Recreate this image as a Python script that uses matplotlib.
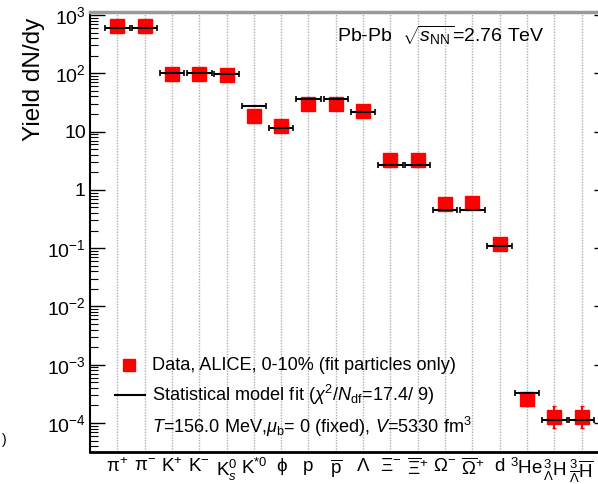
import numpy as np
import matplotlib
matplotlib.use("Agg")
import matplotlib.pyplot as plt
from matplotlib.lines import Line2D
from matplotlib.ticker import FixedLocator, FixedFormatter, LogLocator, NullFormatter

plt.rcParams['font.family'] = ['Liberation Sans', 'DejaVu Sans']
plt.rcParams['mathtext.fontset'] = 'custom'
plt.rcParams['mathtext.rm'] = 'Liberation Sans'
plt.rcParams['mathtext.it'] = 'Liberation Sans:italic'
plt.rcParams['mathtext.bf'] = 'Liberation Sans:bold'

# Particle species
particles = [r'π$^{+}$', r'π$^{-}$', r'K$^{+}$', r'K$^{-}$', r'K$^{0}_{s}$', r'K$^{*0}$',
             'ϕ', 'p', r'$\overline{\mathrm{p}}$', 'Λ', r'Ξ$^{-}$', r'$\overline{\Xi}^{+}$',
             r'Ω$^{-}$', r'$\overline{\Omega}^{+}$', 'd', r'$^{3}$He',
             r'$^{3}_{\Lambda}$H', r'$^{3}_{\overline{\Lambda}}\overline{\mathrm{H}}$']

# Measured yields dN/dy (central 0-10%)
data_yield = [640, 640, 96, 96, 95, 18.5, 12.5, 29.5, 29.5, 22.5, 3.25, 3.25,
              0.57, 0.60, 0.117, 2.55e-4, 1.28e-4, 1.28e-4]
data_err_lo = [30, 30, 5, 5, 5, 1.5, 1.0, 2.0, 2.0, 2.0, 0.25, 0.25,
               0.05, 0.05, 0.01, 0.6e-4, 0.45e-4, 0.45e-4]
data_err_hi = [30, 30, 5, 5, 5, 1.5, 1.0, 2.0, 2.0, 2.0, 0.25, 0.25,
               0.05, 0.05, 0.01, 0.6e-4, 0.70e-4, 0.70e-4]

# Statistical hadronization model fit
model_yield = [600, 600, 100, 100, 98, 27.8, 11.5, 36.0, 36.0, 21.4, 2.67, 2.67,
               0.45, 0.45, 0.110, 3.3e-4, 1.13e-4, 1.13e-4]

ytick_vals = [1e-4, 1e-3, 1e-2, 1e-1, 1, 10, 1e2, 1e3]
ytick_labels = [r'$10^{-4}$', r'$10^{-3}$', r'$10^{-2}$', r'$10^{-1}$', '1', '10',
                r'$10^{2}$', r'$10^{3}$']

W, H = 598, 484
fig = plt.figure(figsize=(W / 100, H / 100), dpi=100)

x = np.arange(len(particles))
unit = 27.31
left_px, top_px, bot_px = 90, 12, 452
ax = fig.add_axes([left_px / W, 1 - bot_px / H, 19 * unit / W, (bot_px - top_px) / H])

ax.set_yscale('log')
ax.set_xlim(-1, 18)
ax.set_ylim(10 ** -4.497, 10 ** 3.051)

# vertical dotted guides at each species
for xi in x:
    ax.axvline(xi, color='#b0b0b0', lw=1.0, ls=(0, (1, 1)), zorder=1)

# data points
ax.errorbar(x, data_yield, yerr=[data_err_lo, data_err_hi], fmt='s', ms=9.5,
            color='#ff0000', mec='#ff0000', ecolor='#ff0000', elinewidth=1.5,
            capsize=1.5, zorder=3)

# model values
ax.errorbar(x, model_yield, xerr=0.45, fmt='none', ecolor='black',
            elinewidth=1.5, capsize=2.5, capthick=1.2, zorder=4)

# axes styling
ax.yaxis.set_major_locator(FixedLocator(ytick_vals))
ax.yaxis.set_major_formatter(FixedFormatter(ytick_labels))
ax.yaxis.set_minor_locator(LogLocator(base=10, subs=np.arange(2, 10), numticks=20))
ax.yaxis.set_minor_formatter(NullFormatter())
ax.tick_params(axis='y', which='major', direction='in', length=11, width=1.0,
               labelsize=14, pad=3, left=True, right=True)
ax.tick_params(axis='y', which='minor', direction='in', length=6, width=0.8,
               left=True, right=True)

ax.set_xticks(x)
ax.set_xticklabels(particles)
ax.tick_params(axis='x', which='both', length=0, labelsize=13.5, pad=4)

ax.spines['left'].set_linewidth(1.5)
ax.spines['bottom'].set_linewidth(2.0)
ax.spines['top'].set_linewidth(2.5)
ax.spines['top'].set_color('#9a9a9a')
ax.spines['right'].set_linewidth(1.5)

def fx(px):
    return px / W

def fy(py):
    return 1 - py / H

# axis title
fig.text(fx(34), fy(79), 'Yield dN/dy', rotation=90, ha='center', va='center',
         fontsize=17.5)

# system label
fig.text(fx(337), fy(35), r'Pb-Pb  $\sqrt{s_{\mathrm{NN}}}$=2.76 TeV', ha='left',
         va='center', fontsize=14)

# legend
fig.add_artist(Line2D([fx(129)], [fy(365)], marker='s', ms=9, color='#ff0000',
                      mec='#ff0000', ls='none', transform=fig.transFigure))
fig.add_artist(Line2D([fx(115), fx(145)], [fy(395), fy(395)], color='black',
                      lw=1.5, transform=fig.transFigure))
fig.text(fx(152), fy(365), 'Data, ALICE, 0-10% (fit particles only)', ha='left',
         va='center', fontsize=13.1)
fig.text(fx(152), fy(395), r'Statistical model fit ($\chi^{2}$/$N_{\mathrm{df}}$=17.4/ 9)',
         ha='left', va='center', fontsize=13.1)
fig.text(fx(152), fy(427), r'$T$=156.0 MeV,$\mu_{\mathrm{b}}$= 0 (fixed), $V$=5330 fm$^{3}$',
         ha='left', va='center', fontsize=13.1)

fig.text(fx(2), fy(440), ')', ha='left', va='center', fontsize=10)

fig.savefig('out.png', dpi=100)
